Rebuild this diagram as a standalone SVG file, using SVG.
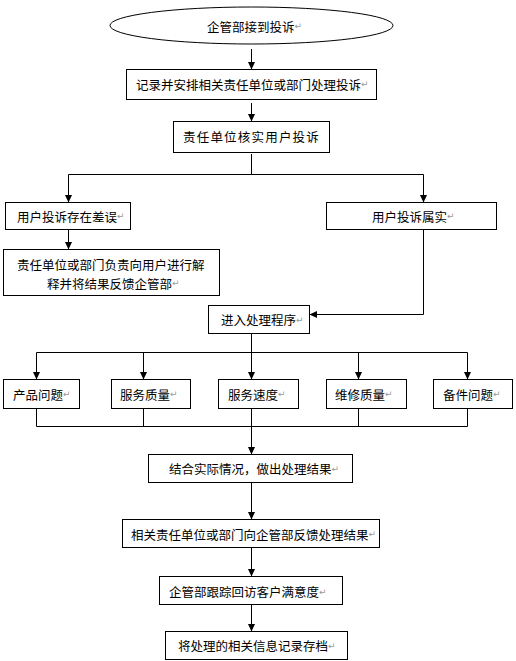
<svg xmlns="http://www.w3.org/2000/svg" width="516" height="661" viewBox="0 0 516 661">
<style>
.b{fill:#fff;stroke:#000;stroke-width:1}
.t{font-family:"Noto Sans CJK SC","Liberation Sans",sans-serif;font-size:12.5px;fill:#000;dominant-baseline:central}
.r{fill:#999;font-size:9px;font-family:"DejaVu Sans",sans-serif}
.c{fill:none;stroke:#000;stroke-width:1}
</style>
<defs>
<marker id="a" markerWidth="8" markerHeight="8" refX="7" refY="4" orient="auto" markerUnits="userSpaceOnUse">
<path d="M0,0.5 L7.5,4 L0,7.5 Z" fill="#000"/>
</marker>
</defs>
<rect width="516" height="661" fill="#fff"/>
<g id="connectors">
<path class="c" d="M251.5,49 V69" marker-end="url(#a)"/>
<path class="c" d="M251.5,103 V121" marker-end="url(#a)"/>
<path class="c" d="M251.5,154 V174.5"/>
<path class="c" d="M68.5,174.5 H423.5"/>
<path class="c" d="M68.5,174.5 V202" marker-end="url(#a)"/>
<path class="c" d="M423.5,174.5 V202" marker-end="url(#a)"/>
<path class="c" d="M68.5,229 V249" marker-end="url(#a)"/>
<path class="c" d="M423.5,229 V314.5 H310" marker-end="url(#a)"/>
<path class="c" d="M251.5,333 V352.5"/>
<path class="c" d="M36.5,352.5 H467.5"/>
<path class="c" d="M36.5,352.5 V379" marker-end="url(#a)"/>
<path class="c" d="M143.5,352.5 V379" marker-end="url(#a)"/>
<path class="c" d="M251.5,352.5 V379" marker-end="url(#a)"/>
<path class="c" d="M358.5,352.5 V379" marker-end="url(#a)"/>
<path class="c" d="M467.5,352.5 V379" marker-end="url(#a)"/>
<path class="c" d="M36.5,408 V426.5 H467.5 V408"/>
<path class="c" d="M143.5,408 V426.5"/>
<path class="c" d="M358.5,408 V426.5"/>
<path class="c" d="M251.5,408 V454" marker-end="url(#a)"/>
<path class="c" d="M251.5,482 V519" marker-end="url(#a)"/>
<path class="c" d="M251.5,547 V576" marker-end="url(#a)"/>
<path class="c" d="M251.5,604 V631" marker-end="url(#a)"/>
</g>
<g id="n_start">
<ellipse class="b" cx="251.5" cy="25.5" rx="141.5" ry="18.5"/>
<text class="t" x="207" y="26">企管部接到投诉<tspan class="r">↵</tspan></text>
</g>
<g id="n_record">
<rect class="b" x="126.5" y="69.5" width="250" height="30"/>
<text class="t" x="136" y="84">记录并安排相关责任单位或部门处理投诉<tspan class="r">↵</tspan></text>
</g>
<g id="n_verify">
<rect class="b" x="173.5" y="121.5" width="156" height="31"/>
<text class="t" x="183" y="136.5" style="letter-spacing:1.2px">责任单位核实用户投诉</text>
</g>
<g id="n_error">
<rect class="b" x="5.5" y="202.5" width="125" height="27"/>
<text class="t" x="17" y="216">用户投诉存在差误<tspan class="r">↵</tspan></text>
</g>
<g id="n_true">
<rect class="b" x="326.5" y="202.5" width="170" height="27"/>
<text class="t" x="372" y="216">用户投诉属实<tspan class="r">↵</tspan></text>
</g>
<g id="n_explain">
<rect class="b" x="3.5" y="249.5" width="216" height="46"/>
<text class="t" x="17" y="264">责任单位或部门负责向用户进行解</text>
<text class="t" x="47" y="283">释并将结果反馈企管部<tspan class="r">↵</tspan></text>
</g>
<g id="n_process">
<rect class="b" x="208.5" y="305.5" width="101" height="28"/>
<text class="t" x="221" y="319.5">进入处理程序<tspan class="r">↵</tspan></text>
</g>
<g id="n_product">
<rect class="b" x="3.5" y="379.5" width="76" height="29"/>
<text class="t" x="13" y="394">产品问题<tspan class="r">↵</tspan></text>
</g>
<g id="n_svcq">
<rect class="b" x="111.5" y="379.5" width="79" height="29"/>
<text class="t" x="120" y="394">服务质量<tspan class="r">↵</tspan></text>
</g>
<g id="n_svcs">
<rect class="b" x="218.5" y="379.5" width="80" height="29"/>
<text class="t" x="228" y="394">服务速度<tspan class="r">↵</tspan></text>
</g>
<g id="n_repair">
<rect class="b" x="326.5" y="379.5" width="80" height="29"/>
<text class="t" x="335" y="394">维修质量<tspan class="r">↵</tspan></text>
</g>
<g id="n_parts">
<rect class="b" x="433.5" y="379.5" width="79" height="29"/>
<text class="t" x="443" y="394">备件问题<tspan class="r">↵</tspan></text>
</g>
<g id="n_result">
<rect class="b" x="148.5" y="454.5" width="204" height="28"/>
<text class="t" x="169" y="468.5">结合实际情况，做出处理结果<tspan class="r">↵</tspan></text>
</g>
<g id="n_feedback">
<rect class="b" x="122.5" y="519.5" width="257" height="28"/>
<text class="t" x="131" y="534">相关责任单位或部门向企管部反馈处理结果<tspan class="r">↵</tspan></text>
</g>
<g id="n_followup">
<rect class="b" x="159.5" y="576.5" width="183" height="28"/>
<text class="t" x="169" y="591.5">企管部跟踪回访客户满意度<tspan class="r">↵</tspan></text>
</g>
<g id="n_archive">
<rect class="b" x="165.5" y="631.5" width="182" height="28"/>
<text class="t" x="178" y="645.5">将处理的相关信息记录存档<tspan class="r">↵</tspan></text>
</g>
</svg>
